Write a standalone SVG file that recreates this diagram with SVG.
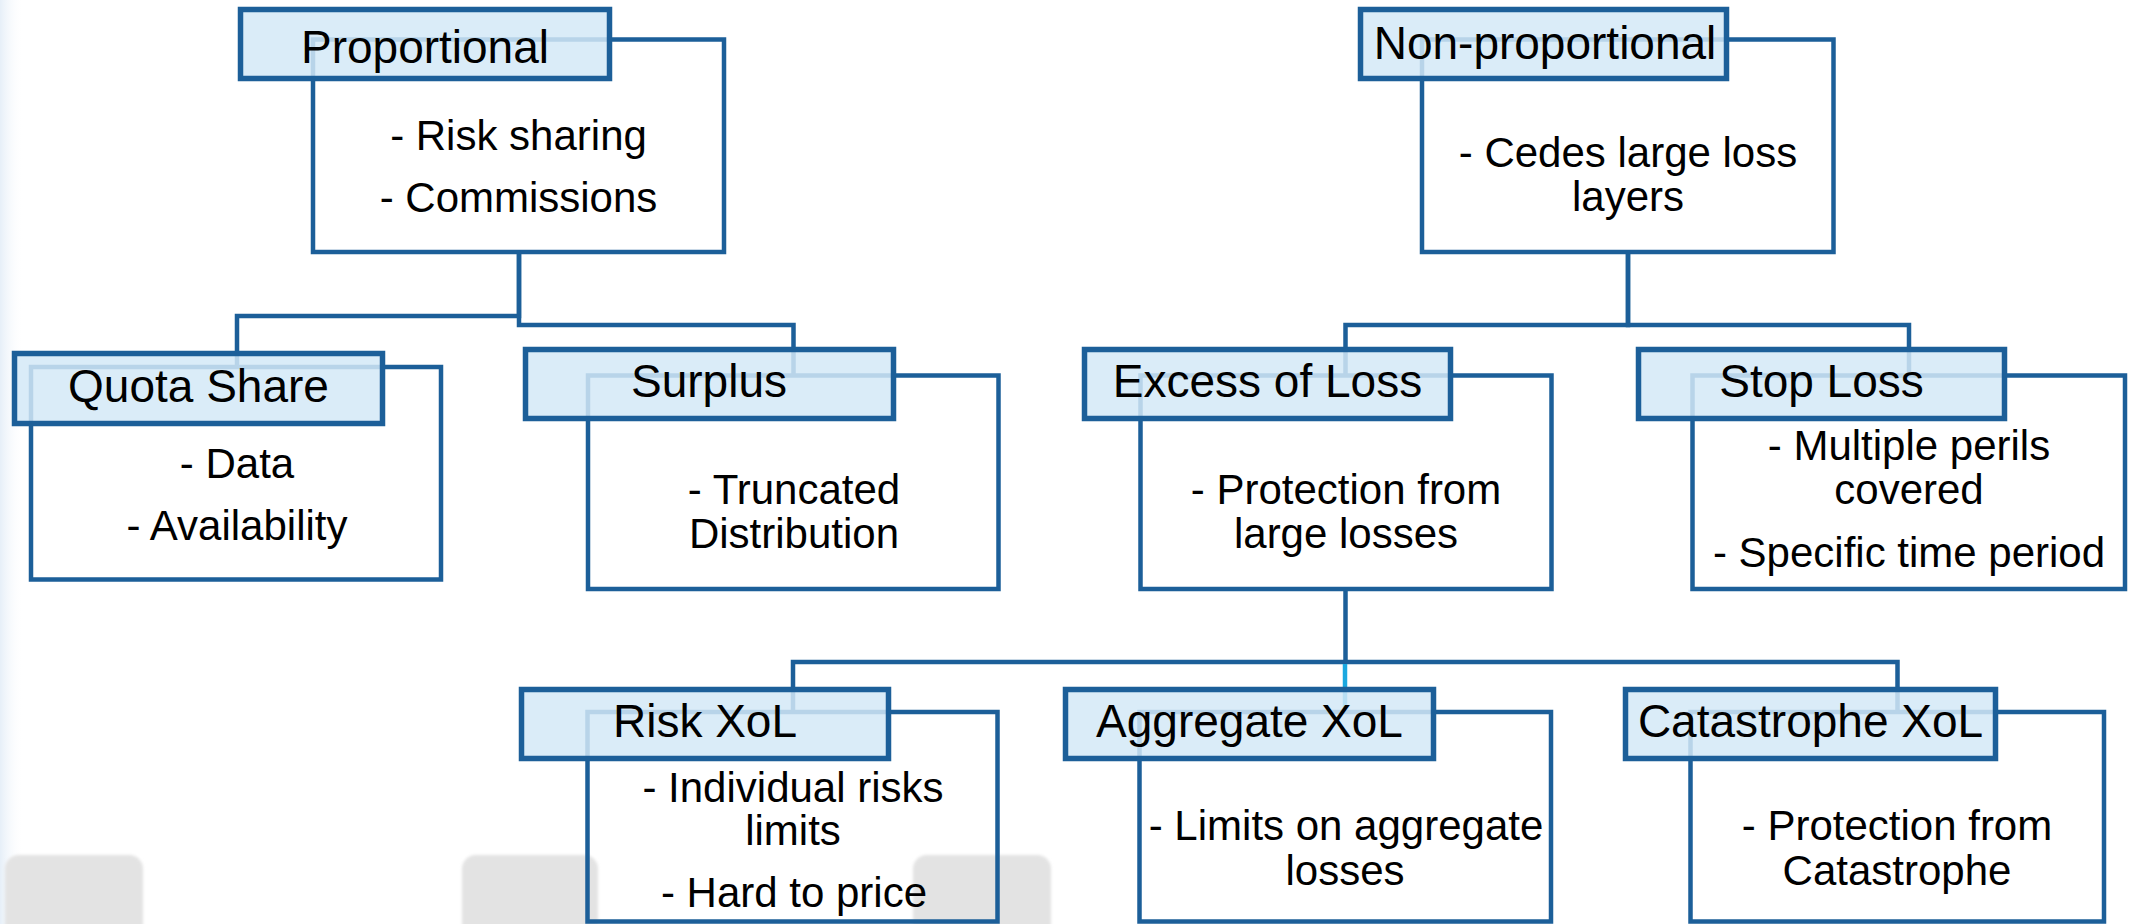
<svg xmlns="http://www.w3.org/2000/svg" width="2136" height="924" viewBox="0 0 2136 924">
<defs>
<linearGradient id="edge" x1="0" y1="0" x2="1" y2="0">
<stop offset="0" stop-color="#e6eff8"/>
<stop offset="1" stop-color="#ffffff" stop-opacity="0"/>
</linearGradient>
<filter id="soft" x="-10%" y="-10%" width="120%" height="120%"><feGaussianBlur stdDeviation="1.5"/></filter>
</defs>
<style>
.body{fill:none;stroke:#1c5f99;stroke-width:4.5}
.head{fill:#d4e9f7;fill-opacity:0.85;stroke:#1c5f99;stroke-width:5.5}
.conn{fill:none;stroke:#1c5f99;stroke-width:4.5}
.hl{fill:none;stroke:#1aa8e0;stroke-width:4.5}
.ht{font-family:"Liberation Sans",Arial,sans-serif;font-size:46px;fill:#000;text-anchor:middle}
.bt{font-family:"Liberation Sans",Arial,sans-serif;font-size:42px;fill:#000;text-anchor:middle}
.bg{fill:#e3e3e3}
</style>
<rect x="0" y="0" width="2136" height="924" fill="#ffffff"/>
<rect x="0" y="0" width="24" height="924" fill="url(#edge)"/>
<g id="background" filter="url(#soft)">
<rect class="bg" x="5" y="855" width="138" height="90" rx="14"/>
<rect class="bg" x="462" y="855" width="136" height="90" rx="14"/>
<rect class="bg" x="913" y="855" width="138" height="90" rx="14"/>
</g>
<g id="connectors">
<path class="conn" d="M519 252 V316 H237 V367"/>
<path class="conn" d="M519 252 V325 H793.5 V375.5"/>
<path class="conn" d="M1628 252 V325 H1345.5 V375.5"/>
<path class="conn" d="M1628 252 V325 H1909 V375.5"/>
<path class="conn" d="M1345.5 589 V662"/>
<path class="conn" d="M793 712 V662 H1897.5 V712"/>
<path class="hl" d="M1345 664 V712"/>
</g>
<g id="proportional">
<rect class="body" x="313" y="39.5" width="411" height="212.5"/>
<rect class="head" x="240.5" y="9.5" width="369" height="69"/>
<text class="ht" x="425" y="63">Proportional</text>
<text class="bt" x="518.5" y="150">- Risk sharing</text>
<text class="bt" x="518.5" y="212">- Commissions</text>
</g>
<g id="non-proportional">
<rect class="body" x="1422" y="39.5" width="411.5" height="212.5"/>
<rect class="head" x="1360.5" y="9.5" width="366" height="69"/>
<text class="ht" x="1545" y="59">Non-proportional</text>
<text class="bt" x="1628" y="167">- Cedes large loss</text>
<text class="bt" x="1628" y="211">layers</text>
</g>
<g id="quota-share">
<rect class="body" x="31" y="367" width="410" height="212.5"/>
<rect class="head" x="14.5" y="353.5" width="368" height="70"/>
<text class="ht" x="198.5" y="402">Quota Share</text>
<text class="bt" x="237" y="478">- Data</text>
<text class="bt" x="237" y="540">- Availability</text>
</g>
<g id="surplus">
<rect class="body" x="588" y="375.5" width="410.5" height="213.5"/>
<rect class="head" x="525.5" y="349.5" width="368" height="69"/>
<text class="ht" x="709" y="397">Surplus</text>
<text class="bt" x="794" y="504">- Truncated</text>
<text class="bt" x="794" y="548">Distribution</text>
</g>
<g id="excess-of-loss">
<rect class="body" x="1140.5" y="375.5" width="411" height="213.5"/>
<rect class="head" x="1084.5" y="349.5" width="366" height="69"/>
<text class="ht" x="1267.5" y="397">Excess of Loss</text>
<text class="bt" x="1346" y="504">- Protection from</text>
<text class="bt" x="1346" y="548">large losses</text>
</g>
<g id="stop-loss">
<rect class="body" x="1692.5" y="375.5" width="432.5" height="213.5"/>
<rect class="head" x="1638.5" y="349.5" width="366" height="69"/>
<text class="ht" x="1821.5" y="397">Stop Loss</text>
<text class="bt" x="1909" y="460">- Multiple perils</text>
<text class="bt" x="1909" y="504">covered</text>
<text class="bt" x="1909" y="567">- Specific time period</text>
</g>
<g id="risk-xol">
<rect class="body" x="587.5" y="712" width="410" height="209.5"/>
<rect class="head" x="521.5" y="689.5" width="367" height="69"/>
<text class="ht" x="705" y="737">Risk XoL</text>
<text class="bt" x="793" y="802">- Individual risks</text>
<text class="bt" x="793" y="845">limits</text>
<text class="bt" x="794" y="907">- Hard to price</text>
</g>
<g id="aggregate-xol">
<rect class="body" x="1139.5" y="712" width="411.5" height="209.5"/>
<rect class="head" x="1065.5" y="689.5" width="368" height="69"/>
<text class="ht" x="1249.5" y="737">Aggregate XoL</text>
<text class="bt" x="1346" y="840">- Limits on aggregate</text>
<text class="bt" x="1345" y="885">losses</text>
</g>
<g id="catastrophe-xol">
<rect class="body" x="1690.5" y="712" width="413.5" height="209.5"/>
<rect class="head" x="1625.5" y="689.5" width="370" height="69"/>
<text class="ht" x="1810.5" y="737">Catastrophe XoL</text>
<text class="bt" x="1897" y="840">- Protection from</text>
<text class="bt" x="1897" y="885">Catastrophe</text>
</g>
</svg>
